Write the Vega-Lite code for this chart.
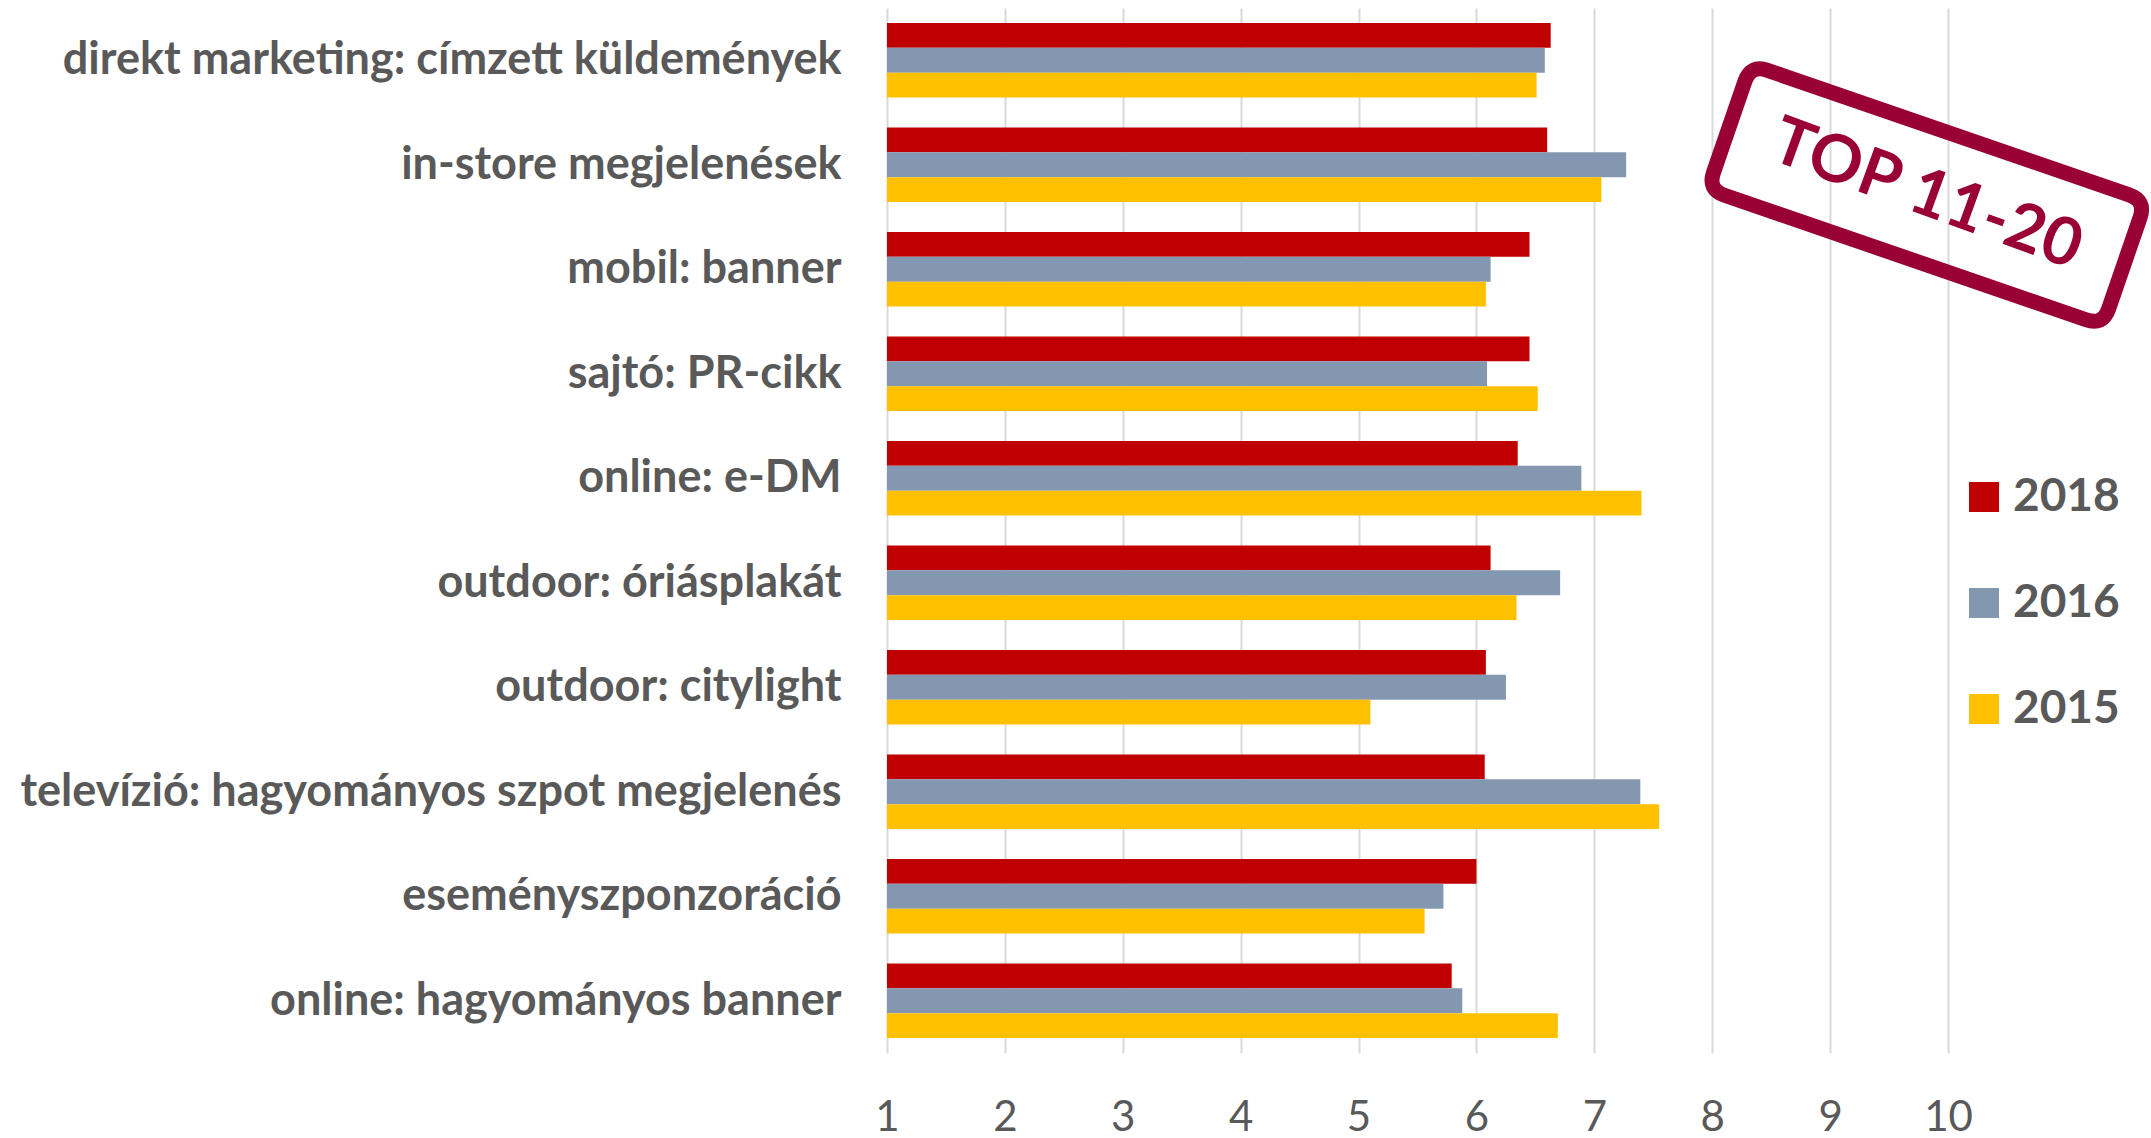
{
  "$schema": "https://vega.github.io/schema/vega-lite/v6.json",
  "autosize": {"type": "none"},
  "width": 1061,
  "height": 1045,
  "padding": {"left": 887, "top": 8, "right": 203, "bottom": 85},
  "background": "white",
  "config": {
    "font": "Lato",
    "view": {"stroke": null}
  },
  "datasets": {
    "bars": [
      {"cat": "direkt marketing: címzett küldemények", "year": "2018", "value": 6.63},
      {"cat": "direkt marketing: címzett küldemények", "year": "2016", "value": 6.58},
      {"cat": "direkt marketing: címzett küldemények", "year": "2015", "value": 6.51},
      {"cat": "in-store megjelenések", "year": "2018", "value": 6.60},
      {"cat": "in-store megjelenések", "year": "2016", "value": 7.27},
      {"cat": "in-store megjelenések", "year": "2015", "value": 7.06},
      {"cat": "mobil: banner", "year": "2018", "value": 6.45},
      {"cat": "mobil: banner", "year": "2016", "value": 6.12},
      {"cat": "mobil: banner", "year": "2015", "value": 6.08},
      {"cat": "sajtó: PR-cikk", "year": "2018", "value": 6.45},
      {"cat": "sajtó: PR-cikk", "year": "2016", "value": 6.09},
      {"cat": "sajtó: PR-cikk", "year": "2015", "value": 6.52},
      {"cat": "online: e-DM", "year": "2018", "value": 6.35},
      {"cat": "online: e-DM", "year": "2016", "value": 6.89},
      {"cat": "online: e-DM", "year": "2015", "value": 7.40},
      {"cat": "outdoor: óriásplakát", "year": "2018", "value": 6.12},
      {"cat": "outdoor: óriásplakát", "year": "2016", "value": 6.71},
      {"cat": "outdoor: óriásplakát", "year": "2015", "value": 6.34},
      {"cat": "outdoor: citylight", "year": "2018", "value": 6.08},
      {"cat": "outdoor: citylight", "year": "2016", "value": 6.25},
      {"cat": "outdoor: citylight", "year": "2015", "value": 5.10},
      {"cat": "televízió: hagyományos szpot megjelenés", "year": "2018", "value": 6.07},
      {"cat": "televízió: hagyományos szpot megjelenés", "year": "2016", "value": 7.39},
      {"cat": "televízió: hagyományos szpot megjelenés", "year": "2015", "value": 7.55},
      {"cat": "eseményszponzoráció", "year": "2018", "value": 6.00},
      {"cat": "eseményszponzoráció", "year": "2016", "value": 5.72},
      {"cat": "eseményszponzoráció", "year": "2015", "value": 5.56},
      {"cat": "online: hagyományos banner", "year": "2018", "value": 5.79},
      {"cat": "online: hagyományos banner", "year": "2016", "value": 5.88},
      {"cat": "online: hagyományos banner", "year": "2015", "value": 6.69}
    ],
    "stamp": [
      {"label": "TOP 11-20", "xpos": 9.82, "ypos": 1.79}
    ]
  },
  "layer": [
    {
      "data": {"name": "bars"},
      "mark": {"type": "bar", "clip": false},
      "encoding": {
        "y": {
          "field": "cat", "type": "nominal", "sort": null,
          "scale": {"paddingInner": 0.287, "paddingOuter": 0.1435},
          "axis": {
            "title": null, "domain": false, "ticks": false, "grid": false,
            "labelFontSize": 45, "labelFontWeight": "bold", "labelColor": "#595959",
            "labelPadding": 46, "labelLimit": 900
          }
        },
        "yOffset": {
          "field": "year", "type": "nominal",
          "sort": ["2018", "2016", "2015"],
          "scale": {"paddingInner": 0, "paddingOuter": 0}
        },
        "x": {
          "field": "value", "type": "quantitative",
          "scale": {"domain": [1, 10], "zero": false, "nice": false},
          "axis": {
            "title": null, "domain": false, "ticks": false, "tickSize": 0,
            "values": [1, 2, 3, 4, 5, 6, 7, 8, 9, 10], "format": "d",
            "grid": true, "gridColor": "#D9D9D9", "gridWidth": 2,
            "labelFontSize": 42, "labelColor": "#595959", "labelPadding": 44,
            "labelFlush": false
          }
        },
        "x2": {"datum": 1},
        "color": {
          "field": "year", "type": "nominal",
          "sort": ["2018", "2016", "2015"],
          "scale": {"domain": ["2018", "2016", "2015"], "range": ["#C00000", "#8497B0", "#FFC000"]},
          "legend": {
            "title": null, "orient": "none", "legendX": 1074, "legendY": 466,
            "padding": 0, "symbolType": "square", "symbolSize": 900,
            "symbolStrokeWidth": 0, "symbolOpacity": 1,
            "labelFontSize": 46, "labelFontWeight": "bold", "labelColor": "#595959",
            "labelOffset": 6, "rowPadding": 60
          }
        }
      }
    },
    {
      "data": {"name": "stamp"},
      "mark": {
        "type": "point", "filled": false, "stroke": "#990033", "strokeWidth": 15, "opacity": 1,
        "angle": 19, "size": 174724,
        "shape": "M -0.915 -0.316 L 0.915 -0.316 Q 1 -0.316 1 -0.231 L 1 0.231 Q 1 0.316 0.915 0.316 L -0.915 0.316 Q -1 0.316 -1 0.231 L -1 -0.231 Q -1 -0.316 -0.915 -0.316 Z"
      },
      "encoding": {
        "x": {"field": "xpos", "type": "quantitative"},
        "y": {"field": "ypos", "type": "quantitative", "scale": {"domain": [0, 10], "reverse": true, "nice": false, "zero": false}, "axis": null}
      }
    },
    {
      "data": {"name": "stamp"},
      "mark": {
        "type": "text", "angle": 20, "fontSize": 66, "fontWeight": "bold",
        "color": "#990033", "align": "center", "baseline": "middle", "font": "Lato"
      },
      "encoding": {
        "x": {"field": "xpos", "type": "quantitative"},
        "y": {"field": "ypos", "type": "quantitative", "scale": {"domain": [0, 10], "reverse": true, "nice": false, "zero": false}, "axis": null},
        "text": {"field": "label"}
      }
    }
  ],
  "resolve": {"scale": {"y": "independent"}}
}
